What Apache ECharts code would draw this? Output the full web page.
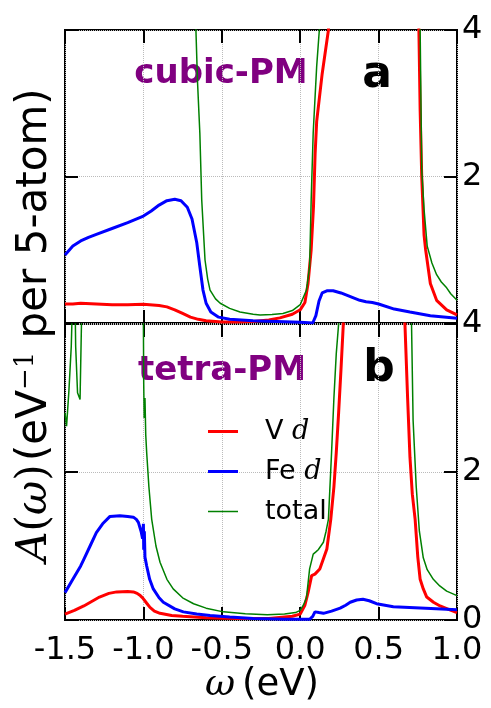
<!DOCTYPE html>
<html>
<head>
<meta charset="utf-8">
<script src="https://cdn.jsdelivr.net/npm/echarts@6/dist/echarts.min.js"></script>
<style>
  html, body { margin: 0; padding: 0; background: #fff; }
  #chart { width: 491px; height: 708px; }
</style>
</head>
<body>
<div id="chart"></div>
<script>
// x ticks, y ticks
const xTicks = [-1.5, -1.0, -0.5, 0.0, 0.5, 1.0]
const yTicks = [0, 2, 4]

// panel a (cubic-PM): [omega, A]
const cubicV = [[-1.5,0.26],[-1.45,0.26],[-1.4,0.27],[-1.3,0.26],[-1.2,0.25],[-1.1,0.25],[-1.0,0.255],[-0.9,0.24],[-0.85,0.22],[-0.8,0.18],[-0.75,0.13],[-0.7,0.08],[-0.65,0.05],[-0.6,0.03],[-0.5,0.015],[-0.4,0.015],[-0.3,0.02],[-0.2,0.04],[-0.13,0.07],[-0.05,0.12],[0.0,0.18],[0.03,0.28],[0.05,0.54],[0.07,1.0],[0.085,1.6],[0.095,2.3],[0.105,2.75],[0.14,3.4],[0.18,4.0],[0.2,4.6],[0.3,9],[0.6,9],[0.74,6],[0.757,4.0],[0.765,2.9],[0.775,2.0],[0.79,1.2],[0.8,1.0],[0.83,0.54],[0.87,0.31],[0.934,0.18],[1.0,0.11]]
const cubicFe = [[-1.5,0.93],[-1.45,1.05],[-1.4,1.12],[-1.35,1.17],[-1.3,1.21],[-1.2,1.29],[-1.1,1.37],[-1.0,1.46],[-0.95,1.53],[-0.9,1.61],[-0.85,1.67],[-0.8,1.69],[-0.76,1.67],[-0.72,1.58],[-0.69,1.42],[-0.66,1.1],[-0.64,0.77],[-0.62,0.45],[-0.6,0.27],[-0.57,0.15],[-0.52,0.08],[-0.45,0.05],[-0.3,0.03],[0.0,0.01],[0.08,0.0],[0.1,0.1],[0.12,0.3],[0.14,0.41],[0.17,0.44],[0.21,0.44],[0.26,0.41],[0.32,0.36],[0.38,0.31],[0.42,0.29],[0.46,0.28],[0.5,0.26],[0.6,0.19],[0.7,0.15],[0.83,0.1],[1.0,0.065]]
const cubicTot = [[-1.5,9],[-0.7,9],[-0.665,4.0],[-0.655,3.3],[-0.64,2.59],[-0.628,1.68],[-0.607,0.86],[-0.59,0.6],[-0.575,0.45],[-0.54,0.33],[-0.51,0.27],[-0.45,0.2],[-0.384,0.15],[-0.3,0.12],[-0.256,0.11],[-0.18,0.115],[-0.11,0.13],[-0.05,0.17],[0.0,0.25],[0.04,0.45],[0.06,0.77],[0.07,1.68],[0.083,2.6],[0.105,3.5],[0.122,4.0],[0.14,5],[0.2,9],[0.7,9],[0.76,5],[0.765,4.0],[0.775,2.1],[0.79,1.55],[0.81,1.05],[0.84,0.82],[0.87,0.66],[0.9,0.56],[0.934,0.48],[0.96,0.4],[1.0,0.31]]

// panel b (tetra-PM)
const tetraV = [[-1.5,0.08],[-1.44,0.13],[-1.38,0.19],[-1.33,0.25],[-1.28,0.31],[-1.22,0.36],[-1.17,0.38],[-1.1,0.385],[-1.064,0.38],[-1.04,0.36],[-1.02,0.33],[-1.005,0.3],[-0.998,0.28],[-0.98,0.23],[-0.958,0.17],[-0.93,0.12],[-0.894,0.09],[-0.82,0.06],[-0.75,0.05],[-0.6,0.03],[-0.4,0.02],[-0.2,0.02],[-0.05,0.05],[0.0,0.08],[0.03,0.2],[0.05,0.37],[0.073,0.6],[0.094,0.62],[0.125,0.69],[0.17,0.96],[0.195,1.36],[0.215,1.8],[0.23,2.26],[0.245,2.8],[0.26,3.38],[0.275,4.0],[0.29,5],[0.35,9],[0.6,9],[0.655,5],[0.668,4.0],[0.685,3.0],[0.7,2.2],[0.715,1.7],[0.733,1.36],[0.75,0.85],[0.765,0.55],[0.785,0.42],[0.807,0.31],[0.85,0.24],[0.892,0.19],[0.95,0.14],[1.0,0.1]]
const tetraFe = [[-1.5,0.37],[-1.45,0.55],[-1.4,0.73],[-1.38,0.82],[-1.34,1.0],[-1.3,1.18],[-1.26,1.3],[-1.213,1.4],[-1.15,1.41],[-1.1,1.4],[-1.064,1.39],[-1.045,1.36],[-1.032,1.32],[-1.015,1.2],[-1.005,1.1],[-1.0,1.3],[-0.998,0.95],[-0.994,1.2],[-0.99,0.85],[-0.979,0.73],[-0.96,0.55],[-0.937,0.42],[-0.9,0.3],[-0.873,0.24],[-0.8,0.15],[-0.745,0.11],[-0.66,0.08],[-0.575,0.06],[-0.45,0.04],[-0.3,0.02],[-0.1,0.01],[0.06,0.01],[0.08,0.05],[0.094,0.11],[0.12,0.1],[0.148,0.09],[0.2,0.12],[0.255,0.16],[0.29,0.2],[0.319,0.24],[0.36,0.27],[0.4,0.28],[0.44,0.26],[0.487,0.22],[0.594,0.18],[0.8,0.16],[1.0,0.14]]
const tetraTot = [[-1.5,2.8],[-1.49,2.62],[-1.475,3.1],[-1.46,3.7],[-1.45,4.5],[-1.44,5],[-1.432,3.7],[-1.42,3.07],[-1.404,2.98],[-1.395,4.0],[-1.385,6],[-1.3,9],[-1.05,9],[-1.005,5],[-1.0,4.0],[-0.998,3.2],[-0.995,2.73],[-0.99,3.0],[-0.985,2.5],[-0.979,2.26],[-0.965,1.8],[-0.947,1.36],[-0.92,1.0],[-0.894,0.78],[-0.85,0.55],[-0.81,0.42],[-0.75,0.3],[-0.68,0.22],[-0.6,0.16],[-0.49,0.11],[-0.35,0.085],[-0.21,0.07],[-0.1,0.08],[-0.03,0.1],[0.0,0.13],[0.02,0.2],[0.04,0.3],[0.06,0.69],[0.083,0.89],[0.1,0.92],[0.115,0.95],[0.148,1.05],[0.165,1.2],[0.18,1.36],[0.2,2.26],[0.215,3.0],[0.23,3.6],[0.245,4.0],[0.27,6],[0.3,9],[0.65,9],[0.7,5],[0.71,4.0],[0.72,2.7],[0.74,1.8],[0.76,1.2],[0.785,0.84],[0.81,0.68],[0.849,0.55],[0.89,0.46],[0.934,0.39],[1.0,0.33]]

const FONT = 'DejaVu Sans'
const SERIF = 'DejaVu Serif'

// 两个子图的位置
const panels = [
  { left: 65, top: 30, width: 392, height: 293 },
  { left: 65, top: 324, width: 392, height: 296 }
]

const tickStyle = { color: '#000', width: 2 }
const grid = { type: 'dotted', color: '#bbb', width: 1 }

const xAxis = []
const yAxis = []
panels.forEach((p, i) => {
  xAxis.push({
    gridIndex: i, type: 'value', position: 'bottom',
    min: xTicks[0], max: xTicks[xTicks.length - 1], interval: 0.5,
    axisLine: { show: false, onZero: false },
    axisTick: { show: true, inside: true, length: 13, lineStyle: tickStyle },
    splitLine: { show: true, lineStyle: grid },
    axisLabel: {
      show: i === 1, margin: 15, color: '#000', fontFamily: FONT, fontSize: 32,
      formatter: (v) => v.toFixed(1)
    }
  })
  xAxis.push({
    gridIndex: i, type: 'value', position: 'top',
    min: xTicks[0], max: xTicks[xTicks.length - 1], interval: 0.5,
    axisLine: { show: false, onZero: false },
    axisTick: { show: true, inside: true, length: 13, lineStyle: tickStyle },
    splitLine: { show: false }, axisLabel: { show: false }
  })
  yAxis.push({
    gridIndex: i, type: 'value', position: 'right',
    min: yTicks[0], max: yTicks[yTicks.length - 1], interval: 2,
    axisLine: { show: false, onZero: false },
    axisTick: { show: true, inside: true, length: 13, lineStyle: tickStyle },
    splitLine: { show: true, lineStyle: grid },
    axisLabel: {
      margin: 5, color: '#000', fontFamily: FONT, fontSize: 32,
      formatter: (v) => (i === 0 && v === 0 ? '' : String(v))
    }
  })
  yAxis.push({
    gridIndex: i, type: 'value', position: 'left',
    min: yTicks[0], max: yTicks[yTicks.length - 1], interval: 2,
    axisLine: { show: false, onZero: false },
    axisTick: { show: true, inside: true, length: 13, lineStyle: tickStyle },
    splitLine: { show: false }, axisLabel: { show: false }
  })
})

const mk = (name, data, panel, color, width) => ({
  name: name, type: 'line', data: data,
  xAxisIndex: panel * 2, yAxisIndex: panel * 2,
  symbol: 'none', clip: true, animation: false,
  lineStyle: { color: color, width: width }, itemStyle: { color: color }
})

// 图例的线条图标（用角上的小点撑开尺寸）
const thick = 'path://M0,0H0.01V0.01H0Z M0,5.5H30V8.5H0Z M29.99,13.99H30V14H29.99Z'
const thin = 'path://M0,0H0.01V0.01H0Z M0,6.25H30V7.75H0Z M29.99,13.99H30V14H29.99Z'

const option = {
  animation: false,
  grid: panels.map((p) => Object.assign({
    show: true, borderColor: '#000', borderWidth: 2,
    backgroundColor: 'transparent', containLabel: false, outerBoundsMode: 'none'
  }, p)),
  xAxis: xAxis,
  yAxis: yAxis,
  legend: {
    orient: 'vertical', left: 203, top: 413,
    itemWidth: 30, itemHeight: 14, itemGap: 13,
    data: [
      { name: 'V d', icon: thick, itemStyle: { color: '#ff0000' } },
      { name: 'Fe d', icon: thick, itemStyle: { color: '#0000ff' } },
      { name: 'total', icon: thin, itemStyle: { color: '#008000' } }
    ],
    formatter: (n) => {
      const parts = n.split(' ')
      return parts.length > 1 ? '{t|' + parts[0] + ' }{m|' + parts[1] + '}' : '{t|' + n + '}'
    },
    textStyle: {
      padding: [0, 0, 0, 22],
      rich: {
        t: { fontFamily: FONT, fontSize: 27, color: '#000', lineHeight: 30 },
        m: { fontFamily: SERIF, fontStyle: 'italic', fontSize: 27, color: '#000', lineHeight: 30 }
      }
    }
  },
  series: [
    mk('V d', cubicV, 0, '#ff0000', 3),
    mk('Fe d', cubicFe, 0, '#0000ff', 3),
    mk('total', cubicTot, 0, '#008000', 1.5),
    mk('V d', tetraV, 1, '#ff0000', 3),
    mk('Fe d', tetraFe, 1, '#0000ff', 3),
    mk('total', tetraTot, 1, '#008000', 1.5)
  ],
  graphic: [
    { type: 'text', x: 221, y: 74, style: { text: 'cubic-PM', font: 'bold 34px "DejaVu Sans"', fill: '#800080', align: 'center', verticalAlign: 'middle' } },
    { type: 'text', x: 377, y: 76, style: { text: 'a', font: 'bold 44px "DejaVu Sans"', fill: '#000', align: 'center', verticalAlign: 'middle' } },
    { type: 'text', x: 222, y: 371, style: { text: 'tetra-PM', font: 'bold 34px "DejaVu Sans"', fill: '#800080', align: 'center', verticalAlign: 'middle' } },
    { type: 'text', x: 379, y: 370, style: { text: 'b', font: 'bold 44px "DejaVu Sans"', fill: '#000', align: 'center', verticalAlign: 'middle' } },
    {
      type: 'text', x: 262, y: 685,
      style: {
        text: '{m|ω}  {t|(eV)}', align: 'center', verticalAlign: 'middle',
        rich: {
          m: { fontFamily: SERIF, fontStyle: 'italic', fontSize: 37, fill: '#000' },
          t: { fontFamily: FONT, fontSize: 37, fill: '#000' }
        }
      }
    },
    {
      type: 'text', x: 35, y: 325, rotation: Math.PI / 2,
      style: {
        text: '{m|A}{s|(}{m|ω}{s|)} {t|(eV}{p|−1}{t| per 5-atom)}', align: 'center', verticalAlign: 'middle',
        rich: {
          m: { fontFamily: SERIF, fontStyle: 'italic', fontSize: 42, fill: '#000', lineHeight: 44 },
          s: { fontFamily: SERIF, fontSize: 42, fill: '#000', lineHeight: 44 },
          t: { fontFamily: FONT, fontSize: 42, fill: '#000', lineHeight: 44 },
          p: { fontFamily: SERIF, fontSize: 26, fill: '#000', lineHeight: 26, verticalAlign: 'top' }
        }
      }
    }
  ]
}

const chart = echarts.init(document.getElementById('chart'))
chart.setOption(option)
</script>
</body>
</html>
